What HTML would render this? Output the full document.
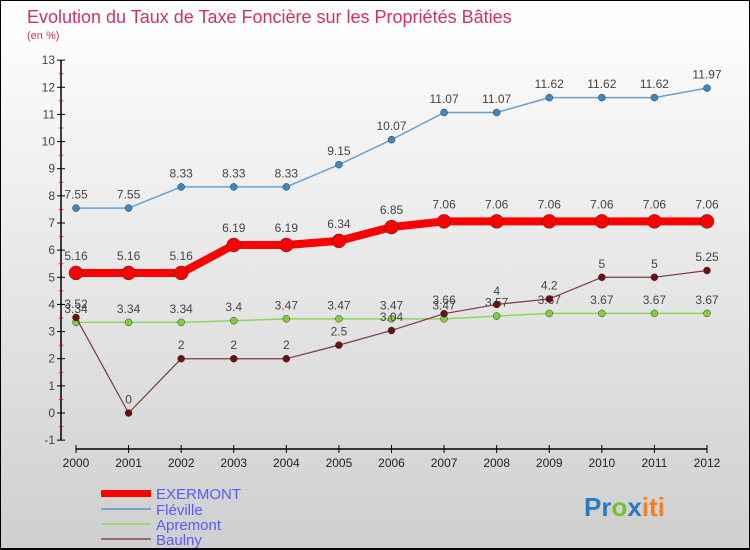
<!DOCTYPE html>
<html><head><meta charset="utf-8"><style>
body{margin:0}
#c{width:750px;height:550px;position:relative;box-sizing:border-box;border:1px solid #000;border-bottom:2px solid #000;background:linear-gradient(#fff,#cfcfcf);font-family:"Liberation Sans",sans-serif;overflow:hidden}
</style></head><body>
<div id="c">
<svg width="750" height="550" style="position:absolute;left:0;top:0">
<text x="26" y="22" font-size="18" fill="#d0306a">Evolution du Taux de Taxe Foncière sur les Propriétés Bâties</text>
<text x="26" y="38" font-size="11" fill="#d0306a">(en %)</text>
<g id="axes"></g><g id="series"></g>
<g>
<rect x="100" y="489" width="50" height="7" fill="#f00"/><text x="155" y="498" font-size="15" fill="#5a5aff">EXERMONT</text>
<line x1="100" y1="508" x2="150" y2="508" stroke="#7aa6c8" stroke-width="2"/><text x="155" y="514" font-size="15" fill="#5a5aff">Fléville</text>
<line x1="100" y1="523" x2="150" y2="523" stroke="#98d878" stroke-width="2"/><text x="155" y="529" font-size="15" fill="#5a5aff">Apremont</text>
<line x1="100" y1="538" x2="150" y2="538" stroke="#9a6a6a" stroke-width="2"/><text x="155" y="544" font-size="15" fill="#5a5aff">Baulny</text>
</g>
<text x="583" y="515" font-size="26" font-weight="bold"><tspan fill="#2a7ac0">Pr</tspan><tspan fill="#7ac030">o</tspan><tspan fill="#2a7ac0">x</tspan><tspan fill="#f08020">iti</tspan></text>
</svg>
</div>
<script>
const years=[2000,2001,2002,2003,2004,2005,2006,2007,2008,2009,2010,2011,2012];
const exermont=[5.16,5.16,5.16,6.19,6.19,6.34,6.85,7.06,7.06,7.06,7.06,7.06,7.06];
const fleville=[7.55,7.55,8.33,8.33,8.33,9.15,10.07,11.07,11.07,11.62,11.62,11.62,11.97];
const apremont=[3.34,3.34,3.34,3.4,3.47,3.47,3.47,3.47,3.57,3.67,3.67,3.67,3.67];
const baulny=[3.52,0,2,2,2,2.5,3.04,3.66,4,4.2,5,5,5.25];
const yTicks=[-1,0,1,2,3,4,5,6,7,8,9,10,11,12,13];
const NS='http://www.w3.org/2000/svg';
const xs=i=>75+i*(706-75)/12;
const ys=v=>412-v*(380/14);
function mk(t,a,p){const e=document.createElementNS(NS,t);for(const k in a)e.setAttribute(k,a[k]);p.appendChild(e);return e;}
const ax=document.getElementById('axes');
let l=mk('line',{x1:60,y1:ys(13),x2:60,y2:ys(-1),stroke:'#000','stroke-width':1.5},ax);


yTicks.forEach(v=>{
 mk('line',{x1:56,y1:ys(v),x2:64,y2:ys(v),stroke:'#000'},ax);
 if(v<13)mk('line',{x1:58,y1:ys(v+0.5),x2:62,y2:ys(v+0.5),stroke:'#f00'},ax);
 const t=mk('text',{x:54,y:ys(v)+4,'font-size':12,'text-anchor':'end',fill:'#444'},ax);t.textContent=v;
 
 
});
l=mk('line',{x1:xs(0),y1:448,x2:xs(12),y2:448,stroke:'#000','stroke-width':1.5},ax);


years.forEach((y,i)=>{
 mk('line',{x1:xs(i),y1:444,x2:xs(i),y2:452,stroke:'#000'},ax);
 const t=mk('text',{x:xs(i),y:466,'font-size':12,'text-anchor':'middle',fill:'#222'},ax);t.textContent=y;
 
 
});
const sg=document.getElementById('series');
function draw(name,data,col,w,r,dot){
 const g=mk('g',{},sg);
 
 
 mk('polyline',{points:data.map((v,i)=>xs(i)+','+ys(v)).join(' '),fill:'none',stroke:col,'stroke-width':w,'stroke-linejoin':'round'},g);
 data.forEach((v,i)=>{
  const c=mk('circle',{cx:xs(i),cy:ys(v),r:r,fill:dot,stroke:'#333','stroke-width':0.5},g);
  
  
  const t=mk('text',{x:xs(i),y:ys(v)-(r+6),'font-size':12,'text-anchor':'middle',fill:'#444'},g);t.textContent=v;
 });
}
draw('apremont',apremont,'#88d860',1.5,3.5,'#80d040');
draw('baulny',baulny,'#7a3a3a',1.2,3.5,'#6a1010');
draw('fleville',fleville,'#6aa0d0',1.5,3.5,'#3a88c8');
draw('exermont',exermont,'#f00',8,7,'#f00');
</script>
</body></html>
